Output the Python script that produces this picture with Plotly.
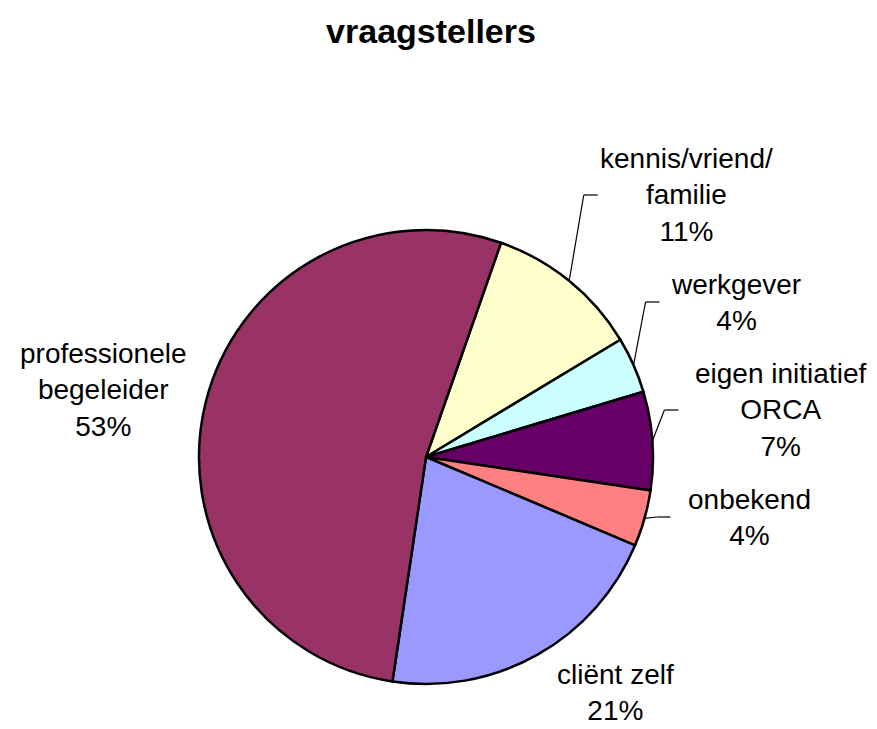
import math
import plotly.graph_objects as go

# Data (percentages)
categories = ["kennis/vriend/familie", "werkgever", "eigen initiatief ORCA",
              "onbekend", "cliënt zelf", "professionele begeleider"]
label_lines = ["kennis/vriend/<br>familie", "werkgever", "eigen initiatief<br>ORCA",
               "onbekend", "cliënt zelf", "professionele<br>begeleider"]
values = [11, 4, 7, 4, 21, 53]
colors = ["#FFFFCC", "#CCFFFF", "#660066", "#FF8080", "#9999FF", "#993366"]

# page is shown with the browser's default 8px body margin
OFF = 8
W, H = 877 - OFF, 729 - OFF
CX, CY, R = 426, 457, 227      # pie centre / radius in page pixels
ROTATION = 19.3                 # start angle of first slice, clockwise from 12 o'clock

# label centres (page px) and whether a leader line is drawn
label_pos = [(686, 195), (736, 302), (780, 410), (749, 517), (615, 692), (103, 390)]
leader = [True, True, True, True, False, False]
FONT = "Arial, Liberation Sans, sans-serif"


def px(x):
    return (x - OFF) / W


def py(y):
    return 1 - (y - OFF) / H


fig = go.Figure(go.Pie(
    labels=categories,
    values=values,
    sort=False,
    direction="clockwise",
    rotation=ROTATION,
    marker=dict(colors=colors, line=dict(color="black", width=2.5)),
    textinfo="none",
    hoverinfo="label+percent",
    domain=dict(x=[px(CX - R), px(CX + R)], y=[py(CY + R), py(CY - R)]),
    showlegend=False,
))

total = sum(values)
cum = 0
annotations = []
shapes = []
for name, v, (lx, ly), has_line in zip(label_lines, values, label_pos, leader):
    mid = math.radians(ROTATION + (cum + v / 2) / total * 360)
    cum += v
    pct = round(v / total * 100)
    annotations.append(dict(
        x=px(lx), y=py(ly), xref="paper", yref="paper",
        text=f"{name}<br>{pct}%", showarrow=False,
        xanchor="center", yanchor="middle", align="center",
        font=dict(family=FONT, size=28, color="black"),
    ))
    if has_line:
        # leader line: from slice edge at mid angle to an elbow, then short horizontal
        sx = CX + R * math.sin(mid)
        sy = CY - R * math.cos(mid)
        ey = ly
        if ey < sy:
            ex = sx + max(12, (sy - ey) * 0.17)
        else:
            ex = sx + 15
        hx = ex + 14
        for (x0, y0, x1, y1) in [(sx, sy, ex, ey), (ex, ey, hx, ey)]:
            shapes.append(dict(type="line", xref="paper", yref="paper",
                               x0=px(x0), y0=py(y0), x1=px(x1), y1=py(y1),
                               line=dict(color="black", width=1.2)))

fig.update_layout(
    width=W, height=H,
    margin=dict(l=0, r=0, t=0, b=0),
    paper_bgcolor="white",
    plot_bgcolor="white",
    title=dict(text="<b>vraagstellers</b>", x=px(431), y=py(31),
               xanchor="center", yanchor="middle",
               font=dict(family=FONT, size=34, color="black")),
    annotations=annotations,
    shapes=shapes,
)

fig.write_html("out.html")
